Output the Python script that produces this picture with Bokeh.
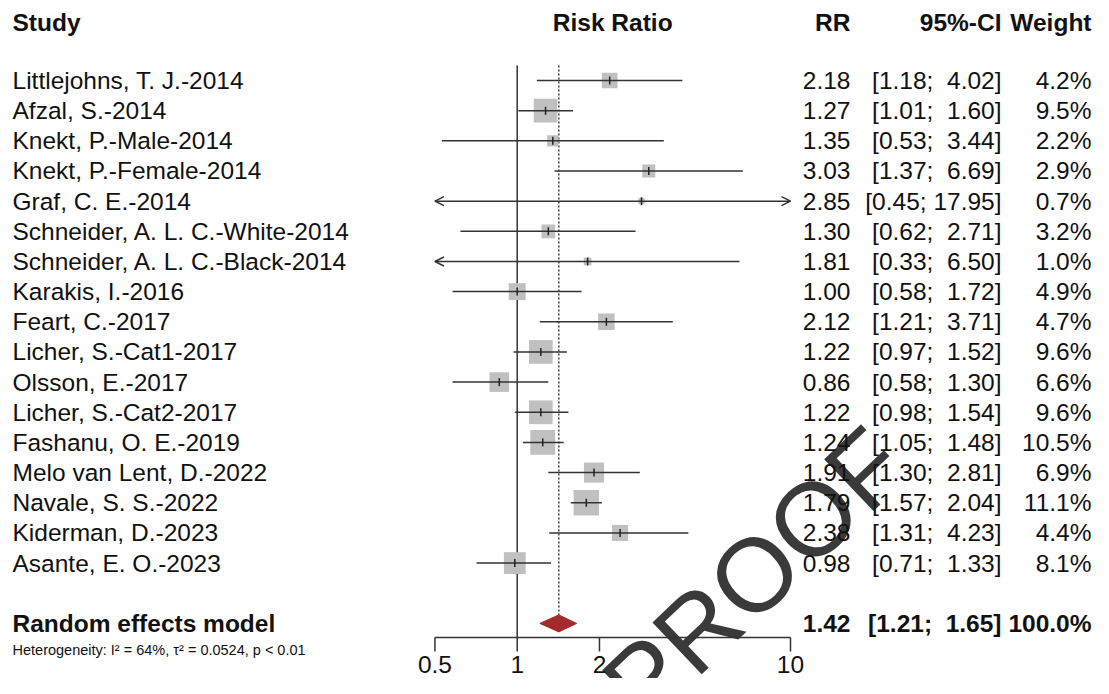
import numpy as np
from bokeh.plotting import figure
from bokeh.models import Range1d, Arrow, OpenHead
from bokeh.core.properties import value
from bokeh.embed import file_html
from bokeh.resources import INLINE

# ---------------- data ----------------
studies = ["Littlejohns, T. J.-2014", "Afzal, S.-2014", "Knekt, P.-Male-2014",
           "Knekt, P.-Female-2014", "Graf, C. E.-2014", "Schneider, A. L. C.-White-2014",
           "Schneider, A. L. C.-Black-2014", "Karakis, I.-2016", "Feart, C.-2017",
           "Licher, S.-Cat1-2017", "Olsson, E.-2017", "Licher, S.-Cat2-2017",
           "Fashanu, O. E.-2019", "Melo van Lent, D.-2022", "Navale, S. S.-2022",
           "Kiderman, D.-2023", "Asante, E. O.-2023"]
rr = [2.18, 1.27, 1.35, 3.03, 2.85, 1.30, 1.81, 1.00, 2.12, 1.22, 0.86, 1.22, 1.24, 1.91, 1.79, 2.38, 0.98]
lower = [1.18, 1.01, 0.53, 1.37, 0.45, 0.62, 0.33, 0.58, 1.21, 0.97, 0.58, 0.98, 1.05, 1.30, 1.57, 1.31, 0.71]
upper = [4.02, 1.60, 3.44, 6.69, 17.95, 2.71, 6.50, 1.72, 3.71, 1.52, 1.30, 1.54, 1.48, 2.81, 2.04, 4.23, 1.33]
weight = [4.2, 9.5, 2.2, 2.9, 0.7, 3.2, 1.0, 4.9, 4.7, 9.6, 6.6, 9.6, 10.5, 6.9, 11.1, 4.4, 8.1]

pooled_label = "Random effects model"
pooled_rr = 1.42
pooled_lower = 1.21
pooled_upper = 1.65
pooled_weight = 100.0
heterogeneity = "Heterogeneity: I\u00b2 = 64%, \u03c4\u00b2 = 0.0524, p < 0.01"

headers = ["Study", "Risk Ratio", "RR", "95%-CI", "Weight"]
axis_ticks = [0.5, 1, 2, 10]
axis_tick_labels = ["0.5", "1", "2", "10"]
null_value = 1
watermark = ["PROOF"]

# ---------------- layout helpers ----------------
W, H = 1093, 678
X1, DEC = 516.7, 273.3      # px of RR=1 and px per decade
Y0, ROW = 80.0, 30.16       # px of first row and row spacing


def xd(xpx):
    return 10 ** ((xpx - X1) / DEC)


def yd(ypx):
    return (ypx - Y0) / ROW


FONT = value("Liberation Sans")
FS = "24.5px"
TXT = "#111111"
LINE = "#333333"

p = figure(width=W, height=H, x_axis_type="log",
           x_range=Range1d(xd(0), xd(W)),
           y_range=Range1d(yd(H), yd(0)),
           output_backend="svg", toolbar_location=None,
           x_axis_location=None, y_axis_location=None,
           min_border=0, outline_line_color=None)
p.grid.visible = False
p.background_fill_color = "white"
p.border_fill_color = "white"

n = len(studies)
rows = np.arange(n)
k_pool = n + 1
k_axis = yd(637)
k_tick = yd(651)
k_top = -0.5
dh = 8.5 / ROW

lo_c = np.clip(lower, axis_ticks[0], axis_ticks[-1])
hi_c = np.clip(upper, axis_ticks[0], axis_ticks[-1])

# watermark (behind everything)
p.text(x=[xd(754)], y=[yd(574)], text=watermark, angle=0.76,
       text_align="center", text_baseline="middle", text_font=FONT,
       text_font_size="104px", text_color="#3a3a3a")

# reference lines
p.segment(x0=[null_value], y0=[k_top], x1=[null_value], y1=[k_axis],
          line_color=LINE, line_width=1.5)
p.segment(x0=[pooled_rr], y0=[k_top], x1=[pooled_rr], y1=[k_pool - dh],
          line_color="#444444", line_width=1.5, line_dash="2 2")

# squares, CIs, point ticks
p.scatter(x=rr, y=rows, marker="square", size=7.65 * np.sqrt(weight),
          fill_color="#c0c0c0", line_color=None)
p.segment(x0=lo_c, y0=rows, x1=hi_c, y1=rows, line_color=LINE, line_width=1.5)
p.scatter(x=rr, y=rows, marker="dash", angle=np.pi / 2, size=8,
          line_color="#222222", line_width=1.5)

for i in range(n):
    if lower[i] < axis_ticks[0]:
        p.add_layout(Arrow(end=OpenHead(size=9, line_width=1.5, line_color=LINE),
                           x_start=rr[i], y_start=i, x_end=axis_ticks[0], y_end=i,
                           line_alpha=0))
    if upper[i] > axis_ticks[-1]:
        p.add_layout(Arrow(end=OpenHead(size=9, line_width=1.5, line_color=LINE),
                           x_start=rr[i], y_start=i, x_end=axis_ticks[-1], y_end=i,
                           line_alpha=0))

# pooled diamond
p.patch(x=[pooled_lower, pooled_rr, pooled_upper, pooled_rr],
        y=[k_pool, k_pool - dh, k_pool, k_pool + dh],
        fill_color="#a52a2a", line_color="#a52a2a", line_width=1)

# axis
p.segment(x0=[axis_ticks[0]], y0=[k_axis], x1=[axis_ticks[-1]], y1=[k_axis],
          line_color=LINE, line_width=1.5)
p.segment(x0=axis_ticks, y0=[k_axis] * len(axis_ticks), x1=axis_ticks,
          y1=[k_tick] * len(axis_ticks), line_color=LINE, line_width=1.5)
p.text(x=axis_ticks, y=[yd(664)] * len(axis_ticks), text=axis_tick_labels,
       text_align="center", text_baseline="middle", text_font=FONT,
       text_font_size=FS, text_color=TXT)

# header
k_head = yd(21.5)
p.text(x=[xd(12)], y=[k_head], text=[headers[0]], text_align="left",
       text_baseline="middle", text_font=FONT, text_font_size=FS,
       text_font_style="bold", text_color=TXT)
p.text(x=[np.sqrt(axis_ticks[0] * axis_ticks[-1])], y=[k_head], text=[headers[1]],
       text_align="center", text_baseline="middle", text_font=FONT,
       text_font_size=FS, text_font_style="bold", text_color=TXT)
p.text(x=[xd(850), xd(1001), xd(1091)], y=[k_head] * 3, text=headers[2:],
       text_align="right", text_baseline="middle", text_font=FONT,
       text_font_size=FS, text_font_style="bold", text_color=TXT)

# study rows
NB = "\u00a0"


def fmt_ci(lo, hi):
    pad = NB if hi < 10 else ""
    return f"[{lo:.2f};{NB}{pad}{hi:.2f}]"


rr_txt = [f"{v:.2f}" for v in rr]
ci_txt = [fmt_ci(a, b) for a, b in zip(lower, upper)]
w_txt = [f"{w:.1f}%" for w in weight]

p.text(x=[xd(12)] * n, y=rows, text=studies, text_align="left",
       text_baseline="middle", text_font=FONT, text_font_size=FS, text_color=TXT)
p.text(x=[xd(850)] * n, y=rows, text=rr_txt, text_align="right",
       text_baseline="middle", text_font=FONT, text_font_size=FS, text_color=TXT)
p.text(x=[xd(1001)] * n, y=rows, text=ci_txt, text_align="right",
       text_baseline="middle", text_font=FONT, text_font_size=FS, text_color=TXT)
p.text(x=[xd(1091)] * n, y=rows, text=w_txt, text_align="right",
       text_baseline="middle", text_font=FONT, text_font_size=FS, text_color=TXT)

# pooled row
p.text(x=[xd(12), xd(850), xd(1001), xd(1091)], y=[k_pool] * 4,
       text=[pooled_label, f"{pooled_rr:.2f}", fmt_ci(pooled_lower, pooled_upper),
             f"{pooled_weight:.1f}%"],
       text_align=["left", "right", "right", "right"], text_baseline="middle",
       text_font=FONT, text_font_size=FS, text_font_style="bold", text_color=TXT)

p.text(x=[xd(12)], y=[yd(649)], text=[heterogeneity], text_align="left",
       text_baseline="middle", text_font=FONT, text_font_size="14.5px",
       text_color=TXT)

open("out.html", "w").write(file_html(p, INLINE))
